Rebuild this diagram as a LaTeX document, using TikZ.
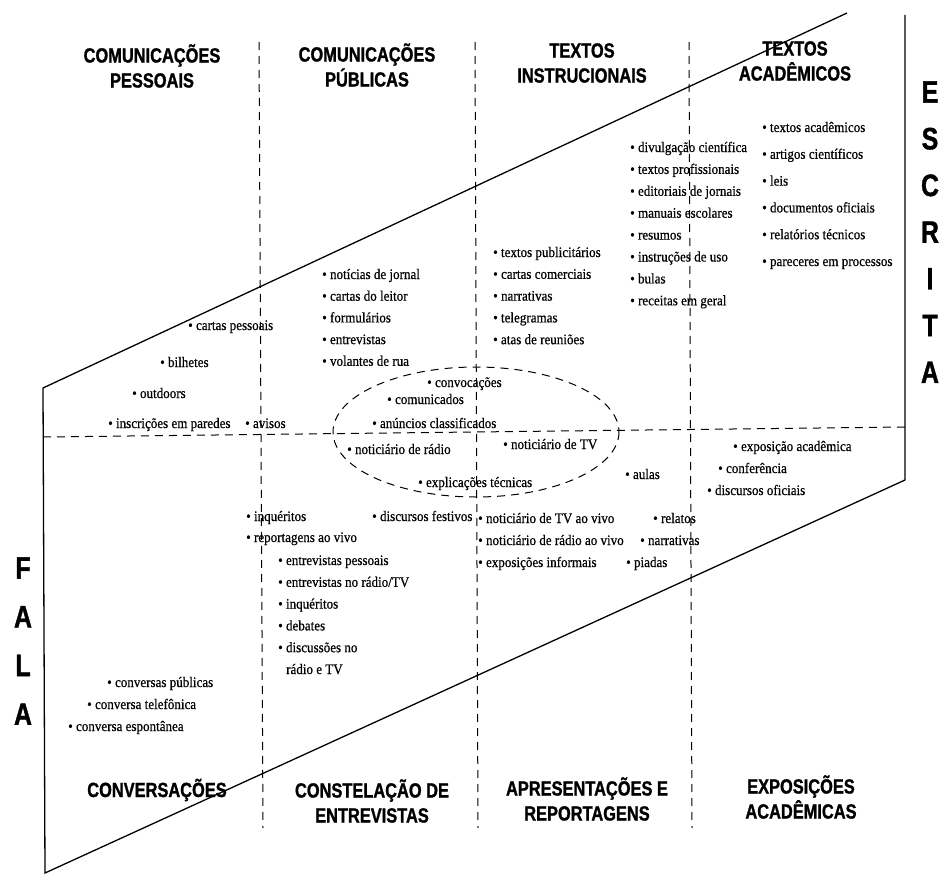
\documentclass[tikz,border=0pt]{standalone}
\usepackage{fontspec}
\setmainfont{Liberation Serif}[FakeStretch=0.9,RawFeature={embolden=0.6}]
\newfontfamily\headfont{Liberation Sans}[FakeStretch=0.8,RawFeature={embolden=1.2}]
\usetikzlibrary{positioning}

\begin{document}
\begin{tikzpicture}[x=1pt,y=-1pt,
  itemtext/.style={anchor=base west,inner sep=0pt,font=\fontsize{14.5}{17}\selectfont},
  heading/.style={align=center,inner sep=0pt,font=\headfont\bfseries\fontsize{20.5}{25}\selectfont},
  sidelabel/.style={inner sep=0pt,font=\headfont\bfseries\fontsize{31}{32}\selectfont},
  divisa/.style={dash pattern=on 8pt off 6pt,line width=1pt}]

\useasboundingbox (0,0) rectangle (943,875);

% corners of the frame
\coordinate (topoEsq) at (43,388);
\coordinate (topoDir) at (847,13);
\coordinate (margemDir) at (905,15);
\coordinate (baseDir) at (905,480);
\coordinate (baseEsq) at (45,873);

%Frame
\draw[line width=1.3pt] (topoDir) -- (topoEsq) -- (baseEsq) -- (baseDir) -- (margemDir);

%Dashed divisions
\draw[divisa] (43,437) -- (905,427);
\foreach \xa/\xb in {259/263,475/478,689/692}
\draw[divisa] (\xa,42) -- (\xb,828);
\draw[divisa] (476,432) ellipse [x radius=143, y radius=65];

%Headings
\node (pessoais) [heading] at (152,66) {COMUNICAÇÕES\\PESSOAIS};
\node (publicas) [heading] at (367,65) {COMUNICAÇÕES\\PÚBLICAS};
\node (instrucionais) [heading] at (582,63) {TEXTOS\\INSTRUCIONAIS};
\node (academicos) [heading] at (795,61) {TEXTOS\\ACADÊMICOS};
\node (conversacoes) [heading] at (157,790) {CONVERSAÇÕES};
\node (constelacao) [heading] at (372,801) {CONSTELAÇÃO DE\\ENTREVISTAS};
\node (apresentacoes) [heading] at (587,799) {APRESENTAÇÕES E\\REPORTAGENS};
\node (exposicoes) [heading] at (801,797) {EXPOSIÇÕES\\ACADÊMICAS};

%Side labels
\foreach \l [count=\i] in {E,S,C,R,I,T,A}
\node (escrita\i) [sidelabel] at (930,{92+46.7*(\i-1)}) {\l};
\foreach \l [count=\i] in {F,A,L,A}
\node (fala\i) [sidelabel] at (23,{568+48.7*(\i-1)}) {\l};

%Lists written as columns
\foreach \t [count=\i] in {notícias de jornal,cartas do leitor,formulários,entrevistas,volantes de rua}
\node (pub\i) [itemtext] at (322,{279+21.7*(\i-1)}) {\textbullet\ \t};

\foreach \t [count=\i] in {textos publicitários,cartas comerciais,narrativas,telegramas,atas de reuniões}
\node (ins\i) [itemtext] at (493,{257+21.8*(\i-1)}) {\textbullet\ \t};

\foreach \t [count=\i] in {divulgação científica,textos profissionais,editoriais de jornais,manuais escolares,resumos,instruções de uso,bulas,receitas em geral}
\node (div\i) [itemtext] at (630,{152+21.9*(\i-1)}) {\textbullet\ \t};

\foreach \t [count=\i] in {textos acadêmicos,artigos científicos,leis,documentos oficiais,relatórios técnicos,pareceres em processos}
\node (aca\i) [itemtext] at (762,{132+26.8*(\i-1)}) {\textbullet\ \t};

\foreach \t [count=\i] in {entrevistas pessoais,entrevistas no rádio/TV,inquéritos,debates,discussões no}
\node (ent\i) [itemtext] at (278,{565+21.8*(\i-1)}) {\textbullet\ \t};
\node (ent6) [itemtext] at ([xshift=8pt,yshift=-21.8pt]ent5.base west) {rádio e TV};

\foreach \t [count=\i] in {noticiário de TV ao vivo,noticiário de rádio ao vivo,exposições informais}
\node (viv\i) [itemtext] at (478,{523+22*(\i-1)}) {\textbullet\ \t};

%Scattered items placed by hand
\foreach \x/\y/\t [count=\i] in {188/330/cartas pessoais,160/367/bilhetes,132/398/outdoors,108/428/inscrições em paredes,245/428/avisos}
\node (pes\i) [itemtext] at (\x,\y) {\textbullet\ \t};

\foreach \x/\y/\t [count=\i] in {427/387/convocações,387/404/comunicados,372/428/anúncios classificados,347/454/noticiário de rádio,503/449/noticiário de TV,418/487/explicações técnicas}
\node (eli\i) [itemtext] at (\x,\y) {\textbullet\ \t};

\foreach \x/\y/\t [count=\i] in {246/521/inquéritos,246/542/reportagens ao vivo,372/521/discursos festivos}
\node (rep\i) [itemtext] at (\x,\y) {\textbullet\ \t};

\foreach \x/\y/\t [count=\i] in {653/523/relatos,640/545/narrativas,626/567/piadas,625/479/aulas}
\node (rel\i) [itemtext] at (\x,\y) {\textbullet\ \t};

\foreach \x/\y/\t [count=\i] in {733/451/exposição acadêmica,718/473/conferência,707/495/discursos oficiais}
\node (exp\i) [itemtext] at (\x,\y) {\textbullet\ \t};

\foreach \x/\y/\t [count=\i] in {107/687/conversas públicas,87/709/conversa telefônica,68/731/conversa espontânea}
\node (con\i) [itemtext] at (\x,\y) {\textbullet\ \t};

\end{tikzpicture}
\end{document}
